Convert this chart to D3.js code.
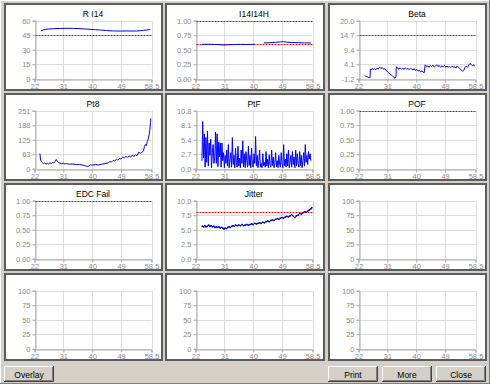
<!DOCTYPE html>
<html><head><meta charset="utf-8">
<script src="https://cdn.jsdelivr.net/npm/d3@7"></script>
<style>body{margin:0;background:#d4d0c8;} svg{display:block;font-family:"Liberation Sans",Arial,sans-serif;}</style>
</head><body><svg id="c" width="490" height="384"></svg>
<script>
// ---------- DATA ----------
const xTickValues = [22, 31, 40, 49, 58.5];
const xTickLabels = ["22", "31", "40", "49", "58.5"];
const titles = ["R I14", "I14I14H", "Beta", "Pt8", "PtF", "POF", "EDC Fail", "Jitter", "", "", "", ""];

const riYLabels = ["0", "15", "30", "45", "60"];
const i14YLabels = ["0.00", "0.25", "0.50", "0.75", "1.00"];
const betaYLabels = ["-1.2", "4.1", "9.4", "14.7", "20.0"];
const pt8YLabels = ["0", "63", "125", "188", "251"];
const ptfYLabels = ["0.0", "2.7", "5.4", "8.1", "10.8"];
const pofYLabels = ["0.00", "0.25", "0.50", "0.75", "1.00"];
const edcYLabels = ["0.00", "0.25", "0.50", "0.75", "1.00"];
const jitterYLabels = ["0.0", "2.5", "5.0", "7.5", "10.0"];
const emptyYLabels = ["0", "25", "50", "75", "100"];

const riLimits = [45];
const i14Limits = [1.0, 0.6];
const betaLimits = [14.7];
const pofLimits = [1.0];
const edcLimits = [1.0];
const jitterLimits = [8.0];

const riData = [[24.0,49.7],[25.3,51.0],[26.5,51.4],[27.9,51.8],[30.0,52.0],[32.1,52.2],[34.2,52.0],[36.2,51.8],[38.0,51.4],[39.3,51.1],[41.0,50.7],[42.5,50.4],[44.5,49.8],[46.6,49.4],[48.7,49.3],[50.8,49.4],[52.4,49.3],[53.9,49.4],[55.0,49.7],[56.0,50.0],[57.0,50.4],[58.1,50.8]];

const i14Data = [[24.0,0.592],[26.0,0.594],[28.0,0.591],[30.0,0.586],[31.0,0.580],[32.0,0.586],[34.0,0.590],[36.0,0.592],[38.0,0.591],[40.6,0.593],[null,null],[43.3,0.618],[45.0,0.620],[47.0,0.628],[48.5,0.636],[49.5,0.638],[50.5,0.630],[52.0,0.624],[54.0,0.622],[56.0,0.619],[58.0,0.616]];

const betaData = [[24.1,0.0],[24.4,-0.5],[24.7,-0.3],[25.0,-0.8],[25.3,-0.6],[25.6,-0.9],[25.7,2.4],[26.0,2.0],[26.3,2.6],[26.6,2.2],[27.0,2.5],[27.4,2.1],[27.8,2.7],[28.2,2.4],[28.6,3.1],[29.0,2.6],[29.4,2.9],[29.8,2.3],[30.2,2.5],[30.6,1.8],[31.0,1.5],[31.4,1.0],[31.8,0.6],[32.2,0.2],[32.6,-0.2],[33.0,-0.6],[33.4,-1.0],[33.7,-0.4],[33.8,3.2],[34.2,2.6],[34.6,2.4],[35.0,2.8],[35.4,2.3],[35.8,2.6],[36.2,2.3],[36.6,2.7],[37.0,2.4],[37.4,2.5],[37.8,2.2],[38.2,2.6],[38.6,2.4],[39.0,2.0],[39.4,2.5],[39.8,1.8],[40.2,2.2],[40.6,1.6],[41.0,1.9],[41.4,1.3],[41.8,1.7],[42.2,1.2],[42.5,1.0],[42.8,3.9],[43.2,3.2],[43.6,3.5],[44.0,3.0],[44.4,3.6],[44.8,3.3],[45.2,3.8],[45.6,3.1],[46.0,3.4],[46.4,3.9],[46.8,3.3],[47.2,3.6],[47.6,3.0],[48.0,3.5],[48.4,3.2],[48.8,3.7],[49.2,3.1],[49.6,3.4],[50.0,3.0],[50.4,3.3],[50.8,2.9],[51.2,3.4],[51.6,3.0],[52.0,3.2],[52.4,2.7],[52.8,3.5],[53.2,2.9],[53.6,2.5],[54.0,2.0],[54.4,1.6],[54.8,1.8],[55.2,2.9],[55.6,3.4],[56.0,3.0],[56.4,3.8],[56.8,4.4],[57.2,4.0],[57.6,3.6],[58.0,3.9],[58.2,3.4]];

const pt8Data = [[23.7,66],[23.9,38],[24.2,30],[24.5,26],[24.8,22],[25.2,25],[25.6,20],[26.0,24],[26.4,21],[26.8,26],[27.2,23],[27.6,27],[28.0,25],[28.4,31],[28.8,40],[29.1,33],[29.5,27],[30.0,24],[30.5,22],[31.0,24],[31.5,21],[32.0,22],[33.0,20],[34.0,21],[35.0,18],[36.0,19],[37.0,16],[37.5,14],[38.0,12],[38.5,10],[39.0,13],[39.5,17],[40.0,16],[41.0,18],[42.0,17],[43.0,20],[44.0,22],[45.0,26],[45.5,31],[46.0,29],[46.5,36],[47.0,34],[47.5,40],[48.0,38],[48.5,45],[49.0,42],[49.5,50],[50.0,47],[50.5,53],[51.0,50],[51.5,56],[52.0,52],[52.5,58],[53.0,54],[53.5,60],[54.0,57],[54.5,72],[55.0,67],[55.5,70],[56.0,78],[56.3,96],[56.6,105],[56.9,100],[57.2,118],[57.5,130],[57.8,150],[58.0,170],[58.2,200],[58.3,218]];

// PtF sampled every 0.25 starting at 24.0
const ptfStart = 24.0, ptfStep = 0.25;
const ptfValues = [
 1.5,8.8,2.0,6.5,0.3,5.8,1.2,7.0,
 0.5,4.8,2.5,5.5,0.2,3.0,4.5,1.0,
 2.0,6.8,1.0,6.5,0.4,5.0,2.2,4.8,
 0.3,4.8,1.5,3.0,0.2,2.5,1.0,3.5,
 0.5,4.5,0.2,1.8,3.0,0.3,5.8,0.8,
 2.5,0.2,3.8,1.2,0.3,4.2,0.5,2.0,
 0.2,3.5,1.0,5.2,0.4,2.8,0.2,3.2,
 1.5,0.3,4.2,0.6,2.5,0.2,3.8,0.8,
 0.3,2.8,1.0,6.0,0.5,2.5,0.2,1.5,
 3.5,0.3,1.0,0.2,2.8,0.6,1.2,0.3,
 3.2,0.5,1.8,0.2,2.6,0.8,0.3,3.5,
 0.6,2.2,0.2,1.0,3.0,0.4,1.5,0.2,
 2.5,0.8,0.3,3.0,1.0,0.2,4.5,0.6,
 1.8,0.3,2.8,0.5,3.5,0.2,1.2,2.5,
 0.3,3.2,0.8,2.2,0.2,3.5,0.5,2.8,
 1.0,0.3,3.2,0.6,2.5,0.2,1.5,3.0,
 0.5,4.5,1.2,2.5,0.8,3.2,1.8,2.8,
 1.5];

const jitterData = [[24.1,5.6],[24.5,5.5],[24.9,5.7],[25.3,5.5],[25.7,5.6],[26.1,5.8],[26.5,5.6],[26.9,5.7],[27.3,5.5],[27.7,5.6],[28.1,5.4],[28.5,5.5],[28.9,5.4],[29.3,5.5],[29.7,5.3],[30.1,5.4],[30.5,5.3],[30.9,5.1],[31.3,5.3],[31.7,5.2],[32.1,5.4],[32.5,5.5],[32.9,5.4],[33.3,5.6],[33.7,5.7],[34.1,5.6],[34.5,5.8],[35.0,5.7],[35.5,5.8],[36.0,5.7],[36.5,5.9],[37.0,5.7],[37.5,5.8],[38.0,5.9],[38.5,5.8],[39.0,5.9],[39.5,6.0],[40.0,5.9],[40.5,6.1],[41.0,6.0],[41.5,6.1],[42.0,6.2],[42.5,6.1],[43.0,6.3],[43.5,6.2],[44.0,6.4],[44.5,6.5],[45.0,6.4],[45.5,6.6],[46.0,6.7],[46.5,6.6],[47.0,6.8],[47.5,6.9],[48.0,6.8],[48.5,7.0],[49.0,7.1],[49.5,7.0],[50.0,7.2],[50.5,7.3],[51.0,7.2],[51.5,7.4],[52.0,7.6],[52.5,7.3],[53.0,7.1],[53.5,7.4],[54.0,7.5],[54.5,7.8],[55.0,7.7],[55.5,7.9],[56.0,8.1],[56.5,8.0],[57.0,8.2],[57.5,8.4],[58.0,8.6],[58.3,8.8]];

const buttonLabels = ["Overlay", "Print", "More", "Close"];

// ---------- BUILD ----------
const ptfData = ptfValues.map((v, i) => [ptfStart + i * ptfStep, v]);

const panels = [
  {yl: riYLabels, series: [riData], limits: riLimits},
  {yl: i14YLabels, series: [i14Data], limits: i14Limits},
  {yl: betaYLabels, series: [betaData], limits: betaLimits},
  {yl: pt8YLabels, series: [pt8Data], limits: []},
  {yl: ptfYLabels, series: [ptfData], limits: []},
  {yl: pofYLabels, series: [], limits: pofLimits},
  {yl: edcYLabels, series: [], limits: edcLimits},
  {yl: jitterYLabels, series: [jitterData], limits: jitterLimits, markers: true},
  {yl: emptyYLabels, series: [], limits: []},
  {yl: emptyYLabels, series: [], limits: []},
  {yl: emptyYLabels, series: [], limits: []},
  {yl: emptyYLabels, series: [], limits: []}
];

const svg = d3.select("#c");
svg.append("rect").attr("width", 490).attr("height", 384).attr("fill", "#d4d0c8");
svg.append("line").attr("x1",0).attr("y1",0.5).attr("x2",490).attr("y2",0.5).attr("stroke","#ffffff");
svg.append("line").attr("x1",0.5).attr("y1",0).attr("x2",0.5).attr("y2",384).attr("stroke","#ffffff");
svg.append("line").attr("x1",489.5).attr("y1",0).attr("x2",489.5).attr("y2",384).attr("stroke","#808080");
svg.append("line").attr("x1",0).attr("y1",383.5).attr("x2",490).attr("y2",383.5).attr("stroke","#808080");

const colX = [4, 165, 328], colW = [159, 160, 159];
const rowY = [3, 93, 183, 273], H = 88;

panels.forEach((p, i) => {
  const c = i % 3, r = Math.floor(i / 3);
  const px = colX[c], py = rowY[r], pw = colW[c];
  const g = svg.append("g");
  g.append("rect").attr("x", px + 1).attr("y", py + 1).attr("width", pw - 2).attr("height", H - 2)
    .attr("fill", "#ffffff").attr("stroke", "#5c5c5c").attr("stroke-width", 2);

  const left = px + 30.5, right = left + 117;
  const top = py + 17.7, bottom = py + 75.8;
  const yVals = p.yl.map(Number);
  const x = d3.scaleLinear().domain([22, 58.5]).range([left, right]);
  const y = d3.scaleLinear().domain([yVals[0], yVals[yVals.length - 1]]).range([bottom, top]);

  g.selectAll(null).data(yVals).enter().append("line")
    .attr("x1", left).attr("x2", right).attr("y1", d => Math.round(y(d)) + 0.5).attr("y2", d => Math.round(y(d)) + 0.5)
    .attr("stroke", "#dcdcdc");
  g.selectAll(null).data(xTickValues).enter().append("line")
    .attr("y1", top).attr("y2", bottom).attr("x1", d => Math.round(x(d)) + 0.5).attr("x2", d => Math.round(x(d)) + 0.5)
    .attr("stroke", "#dcdcdc");

  const ay = g.append("g").attr("transform", `translate(${Math.round(left) + 0.5},0)`)
    .call(d3.axisLeft(y).tickValues(yVals).tickFormat((d, k) => p.yl[k]).tickSize(3).tickPadding(2));
  const ax = g.append("g").attr("transform", `translate(0,${Math.round(bottom) + 0.5})`)
    .call(d3.axisBottom(x).tickValues(xTickValues).tickFormat((d, k) => xTickLabels[k]).tickSize(3).tickPadding(1));
  [ay, ax].forEach(a => {
    a.attr("font-family", null).attr("font-size", null);
    a.select(".domain").attr("stroke", "#a8a8a8");
    a.selectAll(".tick line").attr("stroke", "#a8a8a8");
    a.selectAll(".tick text").attr("fill", "#8a8a8a").style("font-size", "7.5px");
  });

  p.limits.forEach(L => {
    const yy = Math.round(y(L)) + 0.5;
    g.append("line").attr("x1", left + 1).attr("x2", right).attr("y1", yy).attr("y2", yy)
      .attr("stroke", "#ff0000").attr("stroke-dasharray", "2,1");
  });

  const line = d3.line().defined(d => d[0] !== null).x(d => x(d[0])).y(d => y(d[1]));
  p.series.forEach(s => {
    g.append("path").attr("d", line(s)).attr("fill", "none").attr("stroke", "#0000ff").attr("stroke-width", 1);
    if (p.markers) {
      g.selectAll(null).data(s).enter().append("rect")
        .attr("x", d => x(d[0]) - 0.75).attr("y", d => y(d[1]) - 0.75).attr("width", 1.5).attr("height", 1.5).attr("fill", "#0000cc");
    }
  });

  g.append("text").attr("x", (left + right) / 2).attr("y", py + 13.5).attr("text-anchor", "middle")
    .style("font-size", "8.5px").attr("fill", "#000").text(titles[i]);
});

const btnX = [4, 328, 382, 436], btnW = 50, btnY = 366, btnH = 16;
buttonLabels.forEach((t, k) => {
  const bx = btnX[k];
  const b = svg.append("g");
  b.append("rect").attr("x", bx).attr("y", btnY).attr("width", btnW).attr("height", btnH).attr("fill", "#d4d0c8");
  b.append("path").attr("d", `M${bx + 0.5},${btnY + btnH - 1}V${btnY + 0.5}H${bx + btnW - 1}`).attr("stroke", "#ffffff").attr("fill", "none");
  b.append("path").attr("d", `M${bx},${btnY + btnH - 0.5}H${bx + btnW - 0.5}V${btnY}`).attr("stroke", "#404040").attr("fill", "none");
  b.append("path").attr("d", `M${bx + 1},${btnY + btnH - 1.5}H${bx + btnW - 1.5}V${btnY + 1}`).attr("stroke", "#808080").attr("fill", "none");
  b.append("text").attr("x", bx + btnW / 2).attr("y", btnY + 11.5).attr("text-anchor", "middle")
    .style("font-size", "8.5px").attr("fill", "#000").text(t);
});
</script>
</body></html>
